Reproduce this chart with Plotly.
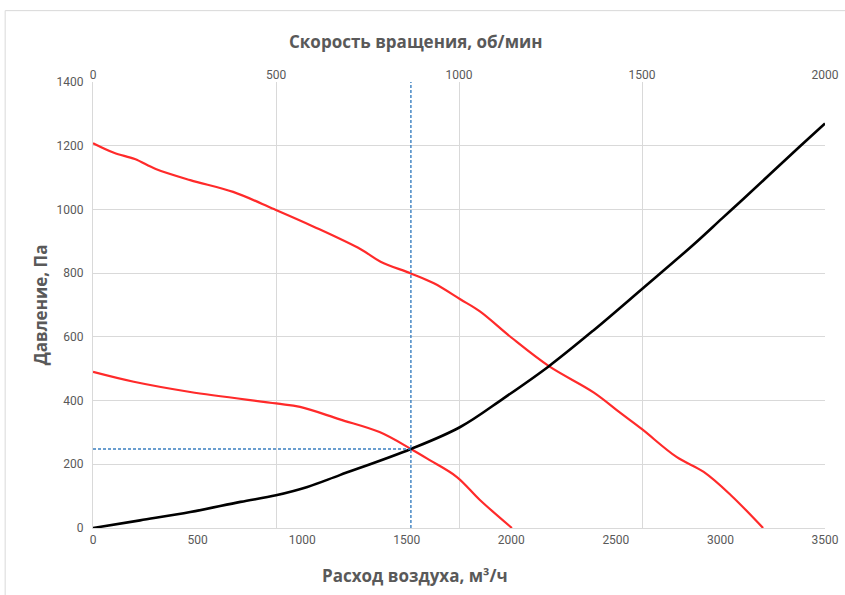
import plotly.graph_objects as go

# Fan characteristic: flow (m3/h) vs pressure (Pa)
flow_high = [0, 100, 200, 300, 465, 670, 865, 1055, 1280, 1375, 1520, 1630, 1756, 1850,
             2000, 2180, 2395, 2520, 2625, 2790, 2920, 3050, 3204]
press_high = [1208, 1178, 1158, 1127, 1092, 1055, 1001, 946, 875, 836, 799, 768, 718, 680,
              598, 508, 425, 362, 310, 223, 176, 103, 0]

flow_low = [0, 195, 465, 875, 990, 1180, 1370, 1520, 1610, 1740, 1850, 2003]
press_low = [490, 459, 427, 391, 380, 341, 301, 248, 213, 160, 88, 0]

# System (network) curve
flow_sys = [0, 225, 465, 705, 875, 1025, 1180, 1520, 1756, 1963, 2180, 2394, 2628,
            2872, 3008, 3108, 3382, 3500]
press_sys = [0, 24, 50, 82, 103, 129, 166, 248, 317, 407, 508, 621, 752,
             890, 972, 1032, 1199, 1270]

# Operating point
work_flow = 1520
work_press = 248

flow_ticks = [0, 500, 1000, 1500, 2000, 2500, 3000, 3500]
speed_ticks = [0, 500, 1000, 1500, 2000]
press_ticks = [0, 200, 400, 600, 800, 1000, 1200, 1400]

RED = "#ff2a2a"
GRID = "#d9d9d9"
TXT = "#595959"
DASH = "#3a7fc0"
TICK_FONT = dict(family="Liberation Sans Narrow, Roboto, Arial", size=12, color=TXT)
TITLE_FONT = dict(family="Open Sans, Arial", size=17, color=TXT)

fig = go.Figure()

spline = dict(shape="spline", smoothing=1.0)
fig.add_trace(go.Scatter(x=flow_high, y=press_high, mode="lines",
                         line=dict(color=RED, width=2.2, **spline),
                         showlegend=False, hoverinfo="skip"))
fig.add_trace(go.Scatter(x=flow_low, y=press_low, mode="lines",
                         line=dict(color=RED, width=2.2, **spline),
                         showlegend=False, hoverinfo="skip"))
fig.add_trace(go.Scatter(x=flow_sys, y=press_sys, mode="lines",
                         line=dict(color="#000000", width=2.6, **spline),
                         showlegend=False, hoverinfo="skip"))

# Guide lines to the operating point
fig.add_trace(go.Scatter(x=[work_flow, work_flow], y=[0, 1400], mode="lines",
                         line=dict(color=DASH, width=1.4, dash="3px,2px"),
                         showlegend=False, hoverinfo="skip"))
fig.add_trace(go.Scatter(x=[0, work_flow], y=[work_press, work_press], mode="lines",
                         line=dict(color=DASH, width=1.4, dash="3px,2px"),
                         showlegend=False, hoverinfo="skip"))

# Invisible trace to drive the rotational-speed axis on top
fig.add_trace(go.Scatter(x=[0, 2000], y=[None, None], xaxis="x2", mode="lines",
                         showlegend=False, hoverinfo="skip"))

fig.update_layout(
    width=845, height=595,
    margin=dict(l=93, r=20, t=82, b=67),
    paper_bgcolor="white", plot_bgcolor="white",
    xaxis=dict(range=[0, 3500], tickvals=flow_ticks, showgrid=False, automargin=False,
               showline=True, linecolor=GRID, linewidth=1.2, zeroline=False,
               ticks="", tickfont=TICK_FONT),
    xaxis2=dict(range=[0, 2000], tickvals=speed_ticks, overlaying="x", side="top",
                anchor="y", showgrid=True, gridcolor=GRID, gridwidth=1.2, automargin=False,
                showline=False, zeroline=False, ticks="", tickfont=TICK_FONT),
    yaxis=dict(range=[0, 1400], tickvals=press_ticks, showgrid=True, gridcolor=GRID,
               gridwidth=1.2, showline=True, linecolor=GRID, linewidth=1.2, automargin=False,
               zeroline=False, ticks="", tickfont=TICK_FONT, ticklabelstandoff=6),
    annotations=[
        dict(text="<b>Скорость вращения, об/мин</b>", xref="paper", yref="paper",
             x=0.44, y=1.091, showarrow=False, font=TITLE_FONT,
             xanchor="center", yanchor="middle"),
        dict(text="<b>Расход воздуха, м³/ч</b>", xref="paper", yref="paper",
             x=0.44, y=-0.106, showarrow=False, font=TITLE_FONT,
             xanchor="center", yanchor="middle"),
        dict(text="<b>Давление, Па</b>", xref="paper", yref="paper",
             x=-0.072, y=0.5, showarrow=False, font=TITLE_FONT, textangle=-90,
             xanchor="center", yanchor="middle"),
    ],
    shapes=[dict(type="rect", xref="paper", yref="paper",
                 x0=-0.12, x1=1.2, y0=-0.3, y1=1.16,
                 line=dict(color=GRID, width=1), fillcolor="rgba(0,0,0,0)")],
)

fig.write_html("out.html")
